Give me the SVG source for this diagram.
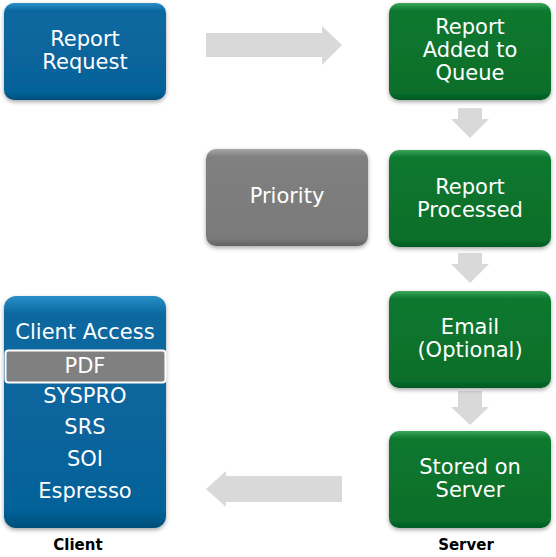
<svg xmlns="http://www.w3.org/2000/svg" width="556" height="557" viewBox="0 0 556 557">
<style>
.t{font-family:"DejaVu Sans",Verdana,sans-serif;font-size:21px;fill:#ffffff;text-anchor:middle}
.lbl{font-family:"DejaVu Sans",Verdana,sans-serif;font-size:15px;font-weight:bold;fill:#000;text-anchor:middle}
.arr{fill:#d9d9d9}
</style>
<defs>
<linearGradient id="gb" x1="0" y1="0" x2="0" y2="1">
<stop offset="0" stop-color="#2b8fc8"/><stop offset="0.08" stop-color="#0868a0"/><stop offset="0.92" stop-color="#066299"/><stop offset="1" stop-color="#054f7a"/>
</linearGradient>
<linearGradient id="gg" x1="0" y1="0" x2="0" y2="1">
<stop offset="0" stop-color="#3aa55a"/><stop offset="0.08" stop-color="#0a782f"/><stop offset="0.92" stop-color="#076e2a"/><stop offset="1" stop-color="#055a22"/>
</linearGradient>
<linearGradient id="gr" x1="0" y1="0" x2="0" y2="1">
<stop offset="0" stop-color="#a6a6a6"/><stop offset="0.08" stop-color="#808080"/><stop offset="0.92" stop-color="#7a7a7a"/><stop offset="1" stop-color="#626262"/>
</linearGradient>
<filter id="sh" x="-10%" y="-10%" width="120%" height="130%">
<feDropShadow dx="0" dy="2" stdDeviation="2" flood-color="#000" flood-opacity="0.35"/>
</filter>
</defs>
<g id="connectors">
<polygon class="arr" points="206,33 322,33 322,26 342,45 322,65 322,57 206,57"/>
<polygon class="arr" points="458,108 482,108 482,119 489,119 470,138 451,119 458,119"/>
<polygon class="arr" points="458,253 482,253 482,264 489,264 470,283 451,264 458,264"/>
<polygon class="arr" points="458,391 482,391 482,407 489,407 470,425 451,407 458,407"/>
<polygon class="arr" points="342,476 226,476 226,471 206,489 226,507 226,502 342,502"/>
</g>
<g id="report-request">
<rect x="4" y="3" width="162" height="97" rx="10" fill="url(#gb)" filter="url(#sh)"/>
<text class="t" x="85" y="46">Report</text>
<text class="t" x="85" y="69">Request</text>
</g>
<g id="report-added">
<rect x="389" y="3" width="162" height="97" rx="10" fill="url(#gg)" filter="url(#sh)"/>
<text class="t" x="470" y="34">Report</text>
<text class="t" x="470" y="57">Added to</text>
<text class="t" x="470" y="80">Queue</text>
</g>
<g id="priority">
<rect x="206" y="149" width="162" height="97" rx="10" fill="url(#gr)" filter="url(#sh)"/>
<text class="t" x="287" y="203">Priority</text>
</g>
<g id="report-processed">
<rect x="389" y="150" width="162" height="97" rx="10" fill="url(#gg)" filter="url(#sh)"/>
<text class="t" x="470" y="194">Report</text>
<text class="t" x="470" y="217">Processed</text>
</g>
<g id="email">
<rect x="389" y="291" width="162" height="97" rx="10" fill="url(#gg)" filter="url(#sh)"/>
<text class="t" x="470" y="334">Email</text>
<text class="t" x="470" y="357">(Optional)</text>
</g>
<g id="stored">
<rect x="389" y="431" width="162" height="97" rx="10" fill="url(#gg)" filter="url(#sh)"/>
<text class="t" x="470" y="474">Stored on</text>
<text class="t" x="470" y="497">Server</text>
</g>
<g id="client-access">
<rect x="4" y="296" width="162" height="232" rx="12" fill="url(#gb)" filter="url(#sh)"/>
<text class="t" x="85" y="339">Client Access</text>
<rect x="5.5" y="350.5" width="160" height="32" rx="3" fill="#808080" stroke="#ffffff" stroke-width="2"/>
<text class="t" x="85" y="373">PDF</text>
<text class="t" x="85" y="403">SYSPRO</text>
<text class="t" x="85" y="434">SRS</text>
<text class="t" x="85" y="466">SOI</text>
<text class="t" x="85" y="498">Espresso</text>
</g>
<g id="labels">
<text class="lbl" x="78" y="550">Client</text>
<text class="lbl" x="466" y="550">Server</text>
</g>
</svg>
